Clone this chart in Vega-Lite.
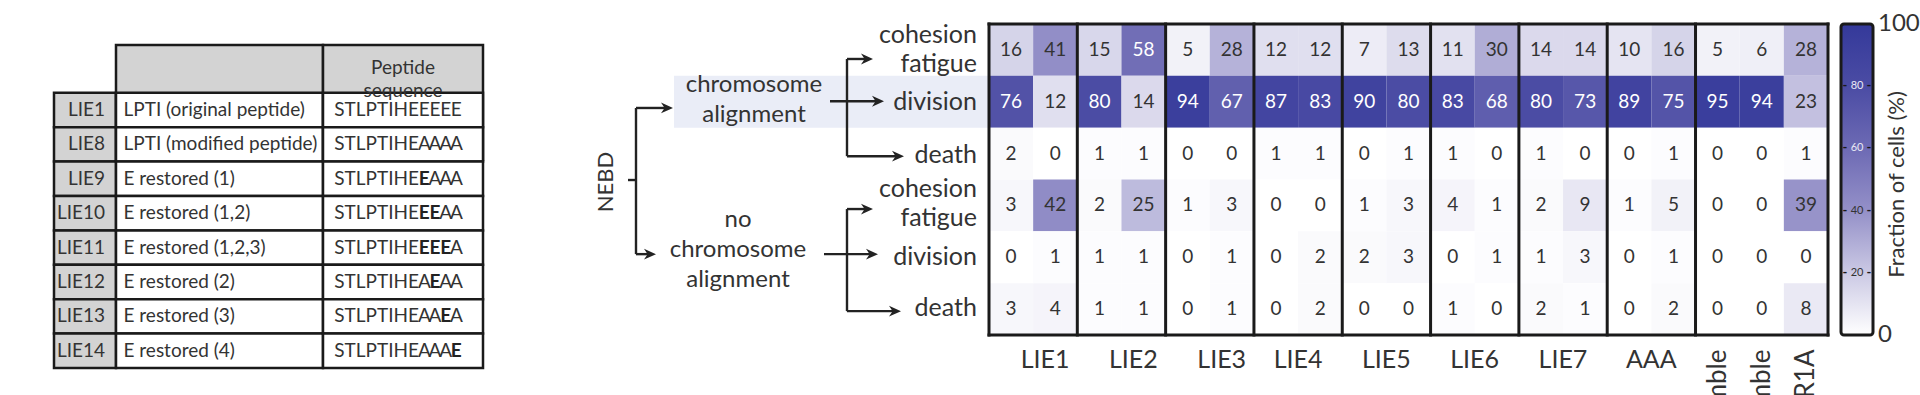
{
  "$schema": "https://vega.github.io/schema/vega-lite/v6.json",
  "autosize": {"type": "pad"},
  "padding": {"left": 52, "top": 12, "right": 0, "bottom": 0},
  "background": "white",
  "config": {"font": "Lato", "view": {"stroke": null}, "text": {"color": "#333333"}},
  "datasets": {
    "table": [
      {"id": "LIE1", "desc": "LPTI (original peptide)", "pre": "STLPTIHE"},
      {"id": "LIE8", "desc": "LPTI (modified peptide)", "pre": "STLPTIHE"},
      {"id": "LIE9", "desc": "E restored (1)", "pre": "STLPTIHE"},
      {"id": "LIE10", "desc": "E restored (1,2)", "pre": "STLPTIHE"},
      {"id": "LIE11", "desc": "E restored (1,2,3)", "pre": "STLPTIHE"},
      {"id": "LIE12", "desc": "E restored (2)", "pre": "STLPTIHE"},
      {"id": "LIE13", "desc": "E restored (3)", "pre": "STLPTIHE"},
      {"id": "LIE14", "desc": "E restored (4)", "pre": "STLPTIHE"}
    ],
    "chars": [
      {"id": "LIE1", "pos": "9", "ch": "E", "b": 0}, {"id": "LIE1", "pos": "10", "ch": "E", "b": 0}, {"id": "LIE1", "pos": "11", "ch": "E", "b": 0}, {"id": "LIE1", "pos": "12", "ch": "E", "b": 0},
      {"id": "LIE8", "pos": "9", "ch": "A", "b": 0}, {"id": "LIE8", "pos": "10", "ch": "A", "b": 0}, {"id": "LIE8", "pos": "11", "ch": "A", "b": 0}, {"id": "LIE8", "pos": "12", "ch": "A", "b": 0},
      {"id": "LIE9", "pos": "9", "ch": "E", "b": 1}, {"id": "LIE9", "pos": "10", "ch": "A", "b": 0}, {"id": "LIE9", "pos": "11", "ch": "A", "b": 0}, {"id": "LIE9", "pos": "12", "ch": "A", "b": 0},
      {"id": "LIE10", "pos": "9", "ch": "E", "b": 1}, {"id": "LIE10", "pos": "10", "ch": "E", "b": 1}, {"id": "LIE10", "pos": "11", "ch": "A", "b": 0}, {"id": "LIE10", "pos": "12", "ch": "A", "b": 0},
      {"id": "LIE11", "pos": "9", "ch": "E", "b": 1}, {"id": "LIE11", "pos": "10", "ch": "E", "b": 1}, {"id": "LIE11", "pos": "11", "ch": "E", "b": 1}, {"id": "LIE11", "pos": "12", "ch": "A", "b": 0},
      {"id": "LIE12", "pos": "9", "ch": "A", "b": 0}, {"id": "LIE12", "pos": "10", "ch": "E", "b": 1}, {"id": "LIE12", "pos": "11", "ch": "A", "b": 0}, {"id": "LIE12", "pos": "12", "ch": "A", "b": 0},
      {"id": "LIE13", "pos": "9", "ch": "A", "b": 0}, {"id": "LIE13", "pos": "10", "ch": "A", "b": 0}, {"id": "LIE13", "pos": "11", "ch": "E", "b": 1}, {"id": "LIE13", "pos": "12", "ch": "A", "b": 0},
      {"id": "LIE14", "pos": "9", "ch": "A", "b": 0}, {"id": "LIE14", "pos": "10", "ch": "A", "b": 0}, {"id": "LIE14", "pos": "11", "ch": "A", "b": 0}, {"id": "LIE14", "pos": "12", "ch": "E", "b": 1}
    ],
    "cells": [
      {"c": "LIE1|1", "a_cf": 16, "a_div": 76, "a_death": 2, "n_cf": 3, "n_div": 0, "n_death": 3},
      {"c": "LIE1|2", "a_cf": 41, "a_div": 12, "a_death": 0, "n_cf": 42, "n_div": 1, "n_death": 4},
      {"c": "LIE2|1", "a_cf": 15, "a_div": 80, "a_death": 1, "n_cf": 2, "n_div": 1, "n_death": 1},
      {"c": "LIE2|2", "a_cf": 58, "a_div": 14, "a_death": 1, "n_cf": 25, "n_div": 1, "n_death": 1},
      {"c": "LIE3|1", "a_cf": 5, "a_div": 94, "a_death": 0, "n_cf": 1, "n_div": 0, "n_death": 0},
      {"c": "LIE3|2", "a_cf": 28, "a_div": 67, "a_death": 0, "n_cf": 3, "n_div": 1, "n_death": 1},
      {"c": "LIE4|1", "a_cf": 12, "a_div": 87, "a_death": 1, "n_cf": 0, "n_div": 0, "n_death": 0},
      {"c": "LIE4|2", "a_cf": 12, "a_div": 83, "a_death": 1, "n_cf": 0, "n_div": 2, "n_death": 2},
      {"c": "LIE5|1", "a_cf": 7, "a_div": 90, "a_death": 0, "n_cf": 1, "n_div": 2, "n_death": 0},
      {"c": "LIE5|2", "a_cf": 13, "a_div": 80, "a_death": 1, "n_cf": 3, "n_div": 3, "n_death": 0},
      {"c": "LIE6|1", "a_cf": 11, "a_div": 83, "a_death": 1, "n_cf": 4, "n_div": 0, "n_death": 1},
      {"c": "LIE6|2", "a_cf": 30, "a_div": 68, "a_death": 0, "n_cf": 1, "n_div": 1, "n_death": 0},
      {"c": "LIE7|1", "a_cf": 14, "a_div": 80, "a_death": 1, "n_cf": 2, "n_div": 1, "n_death": 2},
      {"c": "LIE7|2", "a_cf": 14, "a_div": 73, "a_death": 0, "n_cf": 9, "n_div": 3, "n_death": 1},
      {"c": "AAA|1", "a_cf": 10, "a_div": 89, "a_death": 0, "n_cf": 1, "n_div": 0, "n_death": 0},
      {"c": "AAA|2", "a_cf": 16, "a_div": 75, "a_death": 1, "n_cf": 5, "n_div": 1, "n_death": 2},
      {"c": "scramble#a", "a_cf": 5, "a_div": 95, "a_death": 0, "n_cf": 0, "n_div": 0, "n_death": 0},
      {"c": "scramble#b", "a_cf": 6, "a_div": 94, "a_death": 0, "n_cf": 0, "n_div": 0, "n_death": 0},
      {"c": "PPP2R1A#c", "a_cf": 28, "a_div": 23, "a_death": 1, "n_cf": 39, "n_div": 0, "n_death": 8}
    ],
    "edges": [
      {"x1": 145, "x2": 153, "y1": 3.01, "y2": 3.01},
      {"x1": 153, "x2": 153, "y1": 1.62, "y2": 4.44},
      {"x1": 153, "x2": 183, "y1": 1.62, "y2": 1.62},
      {"x1": 153, "x2": 166, "y1": 4.44, "y2": 4.44},
      {"x1": 364, "x2": 364, "y1": 0.675, "y2": 2.55},
      {"x1": 364, "x2": 383, "y1": 0.675, "y2": 0.675},
      {"x1": 347, "x2": 394, "y1": 1.49, "y2": 1.49},
      {"x1": 364, "x2": 414, "y1": 2.55, "y2": 2.55},
      {"x1": 364, "x2": 364, "y1": 3.57, "y2": 5.54},
      {"x1": 364, "x2": 383, "y1": 3.57, "y2": 3.57},
      {"x1": 341, "x2": 388, "y1": 4.44, "y2": 4.44},
      {"x1": 364, "x2": 411, "y1": 5.54, "y2": 5.54}
    ],
    "heads": [
      {"x": 190, "y": 1.62}, {"x": 173, "y": 4.44},
      {"x": 390, "y": 0.675}, {"x": 401, "y": 1.49}, {"x": 421, "y": 2.55},
      {"x": 390, "y": 3.57}, {"x": 395, "y": 4.44}, {"x": 418, "y": 5.54}
    ],
    "nodes": [
      {"x": 271, "y": 1.18, "t": ["chromosome", "alignment"]},
      {"x": 255, "y": 3.78, "t": ["no", "chromosome", "alignment"]}
    ],
    "outcomes": [
      {"x": 494, "y": 0.21, "t": ["cohesion", "fatigue"]},
      {"x": 494, "y": 1.5, "t": "division"},
      {"x": 494, "y": 2.52, "t": "death"},
      {"x": 494, "y": 3.18, "t": ["cohesion", "fatigue"]},
      {"x": 494, "y": 4.5, "t": "division"},
      {"x": 494, "y": 5.48, "t": "death"}
    ]
  },
  "spacing": 0,
  "bounds": "flush",
  "hconcat": [
    {"width": 62, "height": 344, "data": {"name": "table"},
     "layer": [
       {"mark": {"type": "rect", "fill": "#d3d3d3", "stroke": "#1a1a1a", "strokeWidth": 2.5},
        "encoding": {"y": {"field": "id", "type": "nominal", "axis": null, "scale": {"type": "band", "domain": ["LIE1", "LIE8", "LIE9", "LIE10", "LIE11", "LIE12", "LIE13", "LIE14"], "paddingInner": 0, "paddingOuter": 1.3333, "align": 1}}}},
       {"mark": {"type": "text", "fontSize": 19, "align": "right", "dx": 20, "color": "#333333"},
        "encoding": {"y": {"field": "id", "type": "nominal", "axis": null, "scale": {"type": "band", "domain": ["LIE1", "LIE8", "LIE9", "LIE10", "LIE11", "LIE12", "LIE13", "LIE14"], "paddingInner": 0, "paddingOuter": 1.3333, "align": 1}}, "text": {"field": "id"}}}
     ]},
    {"width": 207, "height": 344,
     "resolve": {"scale": {"y": "independent"}},
     "layer": [
       {"data": {"values": [{"h": "head"}]},
        "mark": {"type": "rect", "fill": "#d3d3d3", "stroke": "#1a1a1a", "strokeWidth": 2.5},
        "encoding": {"y": {"field": "h", "type": "nominal", "axis": null, "scale": {"type": "band", "domain": ["head"], "paddingInner": 0, "paddingOuter": 2.3667, "align": 0.0915}}}},
       {"data": {"name": "table"},
        "mark": {"type": "rect", "fill": "#ffffff", "stroke": "#1a1a1a", "strokeWidth": 2.5},
        "encoding": {"y": {"field": "id", "type": "nominal", "axis": null, "scale": {"type": "band", "domain": ["LIE1", "LIE8", "LIE9", "LIE10", "LIE11", "LIE12", "LIE13", "LIE14"], "paddingInner": 0, "paddingOuter": 1.3333, "align": 1}}}},
       {"data": {"name": "table"},
        "mark": {"type": "text", "fontSize": 19, "align": "left", "dx": -96, "color": "#333333"},
        "encoding": {"y": {"field": "id", "type": "nominal", "axis": null, "scale": {"type": "band", "domain": ["LIE1", "LIE8", "LIE9", "LIE10", "LIE11", "LIE12", "LIE13", "LIE14"], "paddingInner": 0, "paddingOuter": 1.3333, "align": 1}}, "text": {"field": "desc"}}}
     ]},
    {"width": 160, "height": 344,
     "resolve": {"scale": {"y": "independent"}},
     "layer": [
       {"data": {"values": [{"h": "head"}]},
        "mark": {"type": "rect", "fill": "#d3d3d3", "stroke": "#1a1a1a", "strokeWidth": 2.5},
        "encoding": {"y": {"field": "h", "type": "nominal", "axis": null, "scale": {"type": "band", "domain": ["head"], "paddingInner": 0, "paddingOuter": 2.3667, "align": 0.0915}}}},
       {"data": {"name": "table"}, "mark": {"type": "rect", "fill": "#ffffff", "stroke": "#1a1a1a", "strokeWidth": 2.5},
        "encoding": {"y": {"field": "id", "type": "nominal", "axis": null, "scale": {"type": "band", "domain": ["LIE1", "LIE8", "LIE9", "LIE10", "LIE11", "LIE12", "LIE13", "LIE14"], "paddingInner": 0, "paddingOuter": 1.3333, "align": 1}}}},
       {"data": {"values": [{"t": ["Peptide", "sequence"]}]},
        "mark": {"type": "text", "fontSize": 19, "lineHeight": 23, "baseline": "middle", "align": "center", "dy": -25, "color": "#333333"},
        "encoding": {"y": {"datum": "LIE1", "type": "nominal", "bandPosition": 0, "axis": null, "scale": {"type": "band", "domain": ["LIE1", "LIE8", "LIE9", "LIE10", "LIE11", "LIE12", "LIE13", "LIE14"], "paddingInner": 0, "paddingOuter": 1.3333, "align": 1}},
                     "text": {"field": "t"}}},
       {"data": {"name": "table"}, "mark": {"type": "text", "fontSize": 19, "align": "right", "color": "#333333"},
        "encoding": {
          "x": {"datum": "9", "type": "ordinal", "bandPosition": 0, "axis": null, "scale": {"type": "band", "domain": ["_1", "_2", "_3", "_4", "_5", "_6", "_7", "_8", "_9", "9", "10", "11", "12", "_10", "_11"], "paddingInner": 0, "paddingOuter": 0}},
          "y": {"field": "id", "type": "nominal", "axis": null, "scale": {"type": "band", "domain": ["LIE1", "LIE8", "LIE9", "LIE10", "LIE11", "LIE12", "LIE13", "LIE14"], "paddingInner": 0, "paddingOuter": 1.3333, "align": 1}},
          "text": {"field": "pre"}}},
       {"data": {"name": "chars"}, "transform": [{"filter": "datum.b == 0"}], "mark": {"type": "text", "fontSize": 19, "align": "center", "color": "#333333"},
        "encoding": {
          "x": {"field": "pos", "type": "ordinal", "axis": null, "scale": {"type": "band", "domain": ["_1", "_2", "_3", "_4", "_5", "_6", "_7", "_8", "_9", "9", "10", "11", "12", "_10", "_11"], "paddingInner": 0, "paddingOuter": 0}},
          "y": {"field": "id", "type": "nominal", "axis": null, "scale": {"type": "band", "domain": ["LIE1", "LIE8", "LIE9", "LIE10", "LIE11", "LIE12", "LIE13", "LIE14"], "paddingInner": 0, "paddingOuter": 1.3333, "align": 1}},
          "text": {"field": "ch"}}},
       {"data": {"name": "chars"}, "transform": [{"filter": "datum.b == 1"}], "mark": {"type": "text", "fontSize": 19, "align": "center", "fontWeight": "bold", "color": "#222222"},
        "encoding": {
          "x": {"field": "pos", "type": "ordinal", "axis": null, "scale": {"type": "band", "domain": ["_1", "_2", "_3", "_4", "_5", "_6", "_7", "_8", "_9", "9", "10", "11", "12", "_10", "_11"], "paddingInner": 0, "paddingOuter": 0}},
          "y": {"field": "id", "type": "nominal", "axis": null, "scale": {"type": "band", "domain": ["LIE1", "LIE8", "LIE9", "LIE10", "LIE11", "LIE12", "LIE13", "LIE14"], "paddingInner": 0, "paddingOuter": 1.3333, "align": 1}},
          "text": {"field": "ch"}}}
     ]},
    {
      "width": 506,
      "height": 311,
      "layer": [
        {"data": {"values": [{"x1": 191, "x2": 506, "y1": 1, "y2": 2}]},
         "mark": {"type": "rect", "fill": "#eaedf7"},
         "encoding": {
           "x": {"field": "x1", "type": "quantitative", "axis": null, "scale": {"domain": [0, 506], "nice": false, "zero": false}},
           "x2": {"field": "x2"},
           "y": {"field": "y1", "type": "quantitative", "axis": null, "scale": {"domain": [0, 6], "reverse": true, "nice": false, "zero": false}},
           "y2": {"field": "y2"}}},
        {"data": {"name": "edges"},
         "mark": {"type": "rule", "strokeWidth": 2.4, "color": "#222222"},
         "encoding": {
           "x": {"field": "x1", "type": "quantitative", "axis": null, "scale": {"domain": [0, 506], "nice": false, "zero": false}},
           "x2": {"field": "x2"},
           "y": {"field": "y1", "type": "quantitative", "axis": null, "scale": {"domain": [0, 6], "reverse": true, "nice": false, "zero": false}},
           "y2": {"field": "y2"}}},
        {"data": {"name": "heads"},
         "mark": {"type": "point", "shape": "M0,0 L-2,-0.9 L-1.4,0 L-2,0.9 Z", "size": 144, "filled": true, "color": "#222222", "opacity": 1},
         "encoding": {
           "x": {"field": "x", "type": "quantitative", "axis": null, "scale": {"domain": [0, 506], "nice": false, "zero": false}},
           "y": {"field": "y", "type": "quantitative", "axis": null, "scale": {"domain": [0, 6], "reverse": true, "nice": false, "zero": false}}}},
        {"data": {"name": "nodes"},
         "mark": {"type": "text", "fontSize": 24, "lineHeight": 30, "align": "center", "baseline": "middle", "color": "#333333"},
         "encoding": {
           "x": {"field": "x", "type": "quantitative", "axis": null, "scale": {"domain": [0, 506], "nice": false, "zero": false}},
           "y": {"field": "y", "type": "quantitative", "axis": null, "scale": {"domain": [0, 6], "reverse": true, "nice": false, "zero": false}},
           "text": {"field": "t"}}},
        {"data": {"name": "outcomes"},
         "mark": {"type": "text", "fontSize": 25, "lineHeight": 29, "align": "right", "baseline": "middle", "color": "#333333"},
         "encoding": {
           "x": {"field": "x", "type": "quantitative", "axis": null, "scale": {"domain": [0, 506], "nice": false, "zero": false}},
           "y": {"field": "y", "type": "quantitative", "axis": null, "scale": {"domain": [0, 6], "reverse": true, "nice": false, "zero": false}},
           "text": {"field": "t"}}},
        {"data": {"values": [{"x": 123, "y": 3.05, "t": "NEBD"}]},
         "mark": {"type": "text", "fontSize": 22, "angle": 270, "align": "center", "baseline": "middle", "color": "#333333"},
         "encoding": {
           "x": {"field": "x", "type": "quantitative", "axis": null, "scale": {"domain": [0, 506], "nice": false, "zero": false}},
           "y": {"field": "y", "type": "quantitative", "axis": null, "scale": {"domain": [0, 6], "reverse": true, "nice": false, "zero": false}},
           "text": {"field": "t"}}}
      ]
    },
    {
      "width": 839,
      "height": 311,
      "resolve": {"axis": {"x": "independent"}},
      "layer": [
        {"data": {"name": "cells"},
         "transform": [{"fold": ["a_cf", "a_div", "a_death", "n_cf", "n_div", "n_death"], "as": ["row", "v"]}],
         "mark": {"type": "rect"},
         "encoding": {
           "x": {"field": "c", "type": "nominal",
                 "scale": {"domain": ["LIE1|1", "LIE1|2", "LIE2|1", "LIE2|2", "LIE3|1", "LIE3|2", "LIE4|1", "LIE4|2", "LIE5|1", "LIE5|2", "LIE6|1", "LIE6|2", "LIE7|1", "LIE7|2", "AAA|1", "AAA|2", "scramble#a", "scramble#b", "PPP2R1A#c"], "paddingInner": 0, "paddingOuter": 0},
                 "axis": {"orient": "bottom", "title": null, "domain": false, "ticks": false, "labelAngle": 0, "labelPadding": 12, "labelFontSize": 25, "labelColor": "#333333", "labelOverlap": false, "labelBaseline": "top", "labelAlign": "center",
                          "labelExpr": "indexof(datum.value, '|1') > 0 ? split(datum.value, '|')[0] : ''",
                          "labelOffset": {"condition": {"test": "datum.value == 'LIE1|1' || datum.value == 'LIE2|1' || datum.value == 'LIE3|1'", "value": 34}, "value": 22}}},
           "y": {"field": "row", "type": "nominal", "axis": null,
                 "scale": {"domain": ["a_cf", "a_div", "a_death", "n_cf", "n_div", "n_death"], "paddingInner": 0, "paddingOuter": 0}},
           "color": {"field": "v", "type": "quantitative", "legend": null,
                     "scale": {"domain": [0, 20, 40, 60, 80, 100], "range": ["#ffffff", "#cbc9e4", "#9490c8", "#6d6ab4", "#4b4ca4", "#34399a"], "interpolate": "rgb"}}}},
        {"data": {"name": "cells"},
         "transform": [{"fold": ["a_cf", "a_div", "a_death", "n_cf", "n_div", "n_death"], "as": ["row", "v"]}],
         "mark": {"type": "text", "fontSize": 19, "baseline": "middle"},
         "encoding": {
           "x": {"field": "c", "type": "nominal",
                 "scale": {"domain": ["LIE1|1", "LIE1|2", "LIE2|1", "LIE2|2", "LIE3|1", "LIE3|2", "LIE4|1", "LIE4|2", "LIE5|1", "LIE5|2", "LIE6|1", "LIE6|2", "LIE7|1", "LIE7|2", "AAA|1", "AAA|2", "scramble#a", "scramble#b", "PPP2R1A#c"], "paddingInner": 0, "paddingOuter": 0},
                 "axis": {"orient": "bottom", "title": null, "domain": false, "ticks": false, "labelAngle": 270, "labelPadding": 14, "labelFontSize": 26, "labelColor": "#333333", "labelOverlap": false,
                          "labelExpr": "indexof(datum.value, '#') > 0 ? split(datum.value, '#')[0] : ''"}},
           "y": {"field": "row", "type": "nominal", "axis": null,
                 "scale": {"domain": ["a_cf", "a_div", "a_death", "n_cf", "n_div", "n_death"], "paddingInner": 0, "paddingOuter": 0}},
           "text": {"field": "v"},
           "color": {"condition": {"test": "datum.v > 50", "value": "#ffffff"}, "value": "#333333"}}},
        {"data": {"values": [{"c": "LIE1|1"}, {"c": "LIE2|1"}, {"c": "LIE3|1"}, {"c": "LIE4|1"}, {"c": "LIE5|1"}, {"c": "LIE6|1"}, {"c": "LIE7|1"}, {"c": "AAA|1"}, {"c": "scramble#a"}]},
         "mark": {"type": "rule", "strokeWidth": 3, "color": "#1a1a1a", "strokeCap": "square"},
         "encoding": {"x": {"field": "c", "type": "nominal", "bandPosition": 0, "axis": null,
                            "scale": {"domain": ["LIE1|1", "LIE1|2", "LIE2|1", "LIE2|2", "LIE3|1", "LIE3|2", "LIE4|1", "LIE4|2", "LIE5|1", "LIE5|2", "LIE6|1", "LIE6|2", "LIE7|1", "LIE7|2", "AAA|1", "AAA|2", "scramble#a", "scramble#b", "PPP2R1A#c"], "paddingInner": 0, "paddingOuter": 0}}}},
        {"data": {"values": [{}]},
         "mark": {"type": "rule", "strokeWidth": 3, "color": "#1a1a1a", "strokeCap": "square"},
         "encoding": {"x": {"datum": "PPP2R1A#c", "type": "nominal", "bandPosition": 1, "axis": null,
                            "scale": {"domain": ["LIE1|1", "LIE1|2", "LIE2|1", "LIE2|2", "LIE3|1", "LIE3|2", "LIE4|1", "LIE4|2", "LIE5|1", "LIE5|2", "LIE6|1", "LIE6|2", "LIE7|1", "LIE7|2", "AAA|1", "AAA|2", "scramble#a", "scramble#b", "PPP2R1A#c"], "paddingInner": 0, "paddingOuter": 0}}}},
        {"data": {"values": [{}]},
         "mark": {"type": "rule", "strokeWidth": 3, "color": "#1a1a1a", "strokeCap": "square"},
         "encoding": {"y": {"datum": "a_cf", "type": "nominal", "bandPosition": 0, "axis": null,
                            "scale": {"domain": ["a_cf", "a_div", "a_death", "n_cf", "n_div", "n_death"], "paddingInner": 0, "paddingOuter": 0}}}},
        {"data": {"values": [{}]},
         "mark": {"type": "rule", "strokeWidth": 3, "color": "#1a1a1a", "strokeCap": "square"},
         "encoding": {"y": {"datum": "n_death", "type": "nominal", "bandPosition": 1, "axis": null,
                            "scale": {"domain": ["a_cf", "a_div", "a_death", "n_cf", "n_div", "n_death"], "paddingInner": 0, "paddingOuter": 0}}}}
      ]
    },
    {"width": 13, "height": 311, "data": {"values": [{}]}, "mark": "text", "encoding": {"text": {"value": ""}}},
    {
      "width": 32,
      "height": 311,
      "resolve": {"axis": {"y": "independent"}},
      "layer": [
        {"data": {"values": [{"lo": 0, "hi": 100}]},
         "mark": {"type": "rect", "stroke": "#1a1a1a", "strokeWidth": 3, "cornerRadius": 3,
                  "fill": {"gradient": "linear", "x1": 0, "y1": 1, "x2": 0, "y2": 0,
                           "stops": [{"offset": 0, "color": "#ffffff"}, {"offset": 0.2, "color": "#cbc9e4"}, {"offset": 0.4, "color": "#9490c8"}, {"offset": 0.6, "color": "#6d6ab4"}, {"offset": 0.8, "color": "#4b4ca4"}, {"offset": 1, "color": "#34399a"}]}},
         "encoding": {
           "y": {"field": "lo", "type": "quantitative", "scale": {"domain": [0, 100], "nice": false, "zero": false},
                 "axis": {"orient": "right", "labels": false, "ticks": false, "domain": false, "grid": false,
                          "title": "Fraction of cells (%)", "titleFontSize": 22, "titleFontWeight": "normal", "titleColor": "#333333", "titleAngle": 270, "titleBaseline": "top", "titleAlign": "center", "titlePadding": 13, "titleY": 160}},
           "y2": {"field": "hi"}}},
        {"data": {"values": [{"t": 0}, {"t": 100}]},
         "mark": {"type": "text", "fontSize": 24, "baseline": "middle", "align": "left", "dx": 21, "color": "#333333"},
         "encoding": {
           "y": {"field": "t", "type": "quantitative", "axis": null, "scale": {"domain": [0, 100], "nice": false, "zero": false}},
           "text": {"field": "t"}}},
        {"data": {"values": [{"t": 20}, {"t": 40}, {"t": 60}, {"t": 80}]},
         "mark": {"type": "text", "fontSize": 11, "baseline": "middle", "align": "center"},
         "encoding": {
           "y": {"field": "t", "type": "quantitative", "axis": null, "scale": {"domain": [0, 100], "nice": false, "zero": false}},
           "text": {"field": "t"},
           "color": {"condition": {"test": "datum.t > 50", "value": "#e8e8f4"}, "value": "#333333"}}},
        {"data": {"values": [{"t": 20}, {"t": 40}, {"t": 60}, {"t": 80}]},
         "mark": {"type": "text", "fontSize": 13, "fontWeight": "bold", "baseline": "middle", "align": "center", "dx": -12, "color": "#1a1a1a"},
         "encoding": {
           "y": {"field": "t", "type": "quantitative", "axis": null, "scale": {"domain": [0, 100], "nice": false, "zero": false}},
           "text": {"value": "-"}}},
        {"data": {"values": [{"t": 20}, {"t": 40}, {"t": 60}, {"t": 80}]},
         "mark": {"type": "text", "fontSize": 13, "fontWeight": "bold", "baseline": "middle", "align": "center", "dx": 12, "color": "#1a1a1a"},
         "encoding": {
           "y": {"field": "t", "type": "quantitative", "axis": null, "scale": {"domain": [0, 100], "nice": false, "zero": false}},
           "text": {"value": "-"}}}
      ]
    }
  ]
}
